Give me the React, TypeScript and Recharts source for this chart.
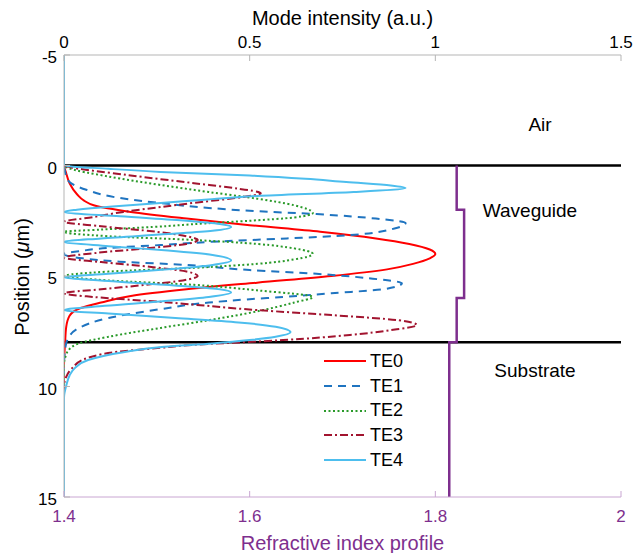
import React from "react";
import { LineChart, Line, XAxis, YAxis, ReferenceLine, Legend } from "recharts";

const FONT = "'Liberation Sans', Arial, Helvetica, sans-serif";
const PURPLE = "#7E2F8E";
const FRAME = "#b5b5b5";
const FRAME_BOTTOM = "#c9a6d2";

// [position (um), mode intensity (a.u.)]
const te0: [number, number][] = [
  [-5, 0], [0, 0], [0.3, 0.005], [0.8, 0.015], [1.3, 0.035], [1.6, 0.055], [1.8, 0.08],
  [2.1, 0.18], [2.4, 0.33], [2.7, 0.5], [3.0, 0.69], [3.3, 0.84], [3.55, 0.93], [3.8, 0.985],
  [4.0, 1.0], [4.2, 0.985], [4.45, 0.94], [4.7, 0.87], [5.0, 0.72], [5.3, 0.52], [5.6, 0.33],
  [5.9, 0.18], [6.2, 0.1], [6.45, 0.045], [6.8, 0.015], [7.3, 0.006], [8.0, 0.003], [9, 0], [15, 0],
];
const te1: [number, number][] = [
  [-5, 0], [0, 0], [0.3, 0.003], [0.66, 0.01], [1.1, 0.06], [1.47, 0.15], [1.7, 0.26],
  [1.92, 0.39], [2.05, 0.5], [2.2, 0.68], [2.4, 0.84], [2.6, 0.92], [2.85, 0.89], [3.15, 0.77],
  [3.3, 0.6], [3.46, 0.39], [3.6, 0.26], [3.73, 0.12], [3.88, 0.04], [4.0, 0],
  [4.2, 0.05], [4.35, 0.15], [4.5, 0.33], [4.73, 0.5], [4.9, 0.68], [5.1, 0.82], [5.33, 0.91],
  [5.6, 0.86], [5.78, 0.72], [5.95, 0.59], [6.05, 0.5], [6.2, 0.39], [6.5, 0.26], [6.9, 0.12],
  [7.4, 0.035], [7.8, 0.012], [8.2, 0.004], [9, 0], [15, 0],
];
const te2: [number, number][] = [
  [-5, 0], [0, 0], [0.1, 0.01], [0.5, 0.12], [0.88, 0.26], [1.2, 0.39], [1.5, 0.52],
  [1.8, 0.62], [2.15, 0.67], [2.35, 0.62], [2.5, 0.5], [2.62, 0.38], [2.78, 0.24], [2.9, 0.1],
  [3.0, 0], [3.2, 0.12], [3.37, 0.35], [3.55, 0.52], [3.75, 0.62], [4.0, 0.67], [4.25, 0.62],
  [4.45, 0.52], [4.63, 0.35], [4.8, 0.12], [5.0, 0], [5.2, 0.12], [5.4, 0.35], [5.65, 0.52],
  [5.95, 0.67], [6.2, 0.62], [6.6, 0.52], [7.0, 0.39], [7.35, 0.26], [7.75, 0.12], [8.05, 0.04],
  [8.3, 0.015], [8.6, 0.005], [9, 0], [15, 0],
];
const te3: [number, number][] = [
  [-5, 0], [0, 0], [0.05, 0.01], [0.43, 0.17], [0.8, 0.35], [1.05, 0.47], [1.25, 0.53],
  [1.43, 0.48], [1.65, 0.37], [1.88, 0.26], [2.1, 0.16], [2.33, 0.08], [2.55, 0],
  [2.75, 0.1], [3.0, 0.25], [3.2, 0.33], [3.37, 0.36], [3.55, 0.33], [3.75, 0.22], [3.95, 0.09],
  [4.17, 0], [4.37, 0.1], [4.6, 0.24], [4.8, 0.33], [5.0, 0.36], [5.2, 0.32], [5.4, 0.22],
  [5.6, 0.1], [5.78, 0], [5.95, 0.08], [6.17, 0.26], [6.54, 0.52], [6.77, 0.72], [7.0, 0.9],
  [7.22, 0.95], [7.45, 0.88], [7.67, 0.77], [7.9, 0.59], [8.0, 0.48], [8.1, 0.36], [8.25, 0.26],
  [8.4, 0.16], [8.7, 0.065], [9.2, 0.02], [9.6, 0.005], [10, 0], [15, 0],
];
const te4: [number, number][] = [
  [-5, 0], [0, 0], [0.15, 0.12], [0.29, 0.26], [0.45, 0.5], [0.6, 0.65], [0.75, 0.76],
  [0.9, 0.88], [1.02, 0.92], [1.2, 0.78], [1.38, 0.52], [1.56, 0.37], [1.7, 0.26], [1.85, 0.13],
  [2.0, 0.035], [2.1, 0], [2.3, 0.15], [2.5, 0.33], [2.65, 0.42], [2.78, 0.45], [2.95, 0.4],
  [3.1, 0.28], [3.3, 0.1], [3.45, 0], [3.65, 0.12], [3.85, 0.28], [4.05, 0.4], [4.3, 0.45],
  [4.5, 0.4], [4.7, 0.28], [4.9, 0.12], [5.05, 0], [5.25, 0.14], [5.45, 0.32], [5.6, 0.42],
  [5.75, 0.45], [5.95, 0.39], [6.15, 0.26], [6.35, 0.11], [6.55, 0], [6.7, 0.12], [6.9, 0.3],
  [7.1, 0.47], [7.3, 0.57], [7.55, 0.61], [7.75, 0.57], [7.9, 0.5], [8.05, 0.4], [8.2, 0.27],
  [8.45, 0.16], [8.8, 0.065], [9.15, 0.03], [9.5, 0.015], [9.9, 0.007], [10.5, 0], [15, 0],
];

// refractive index profile (step)
const profilePos = [0, 2, 2, 6, 6, 8, 8, 15];
const profileN = [1.823, 1.823, 1.831, 1.831, 1.823, 1.823, 1.815, 1.815];

const intensityTicks = [0, 0.5, 1, 1.5];
const indexTicks = [1.4, 1.6, 1.8, 2];
const posTicks = [-5, 0, 5, 10, 15];

const modes = [
  { name: "TE0", pts: te0, color: "#ff0000", dash: undefined },
  { name: "TE1", pts: te1, color: "#1f74c0", dash: "8 6" },
  { name: "TE2", pts: te2, color: "#2a9a2a", dash: "2 2.5" },
  { name: "TE3", pts: te3, color: "#a2142f", dash: "8 3 2 3" },
  { name: "TE4", pts: te4, color: "#4dbeee", dash: undefined },
];

const profileRows = profilePos.map((pos, i) => ({ pos, v: profileN[i] }));

const TopTick = (props: any) => {
  const { x, y, payload } = props;
  return (
    <g>
      <line x1={x} x2={x} y1={y} y2={y + 6} stroke={FRAME} />
      <text x={x} y={y - 7} textAnchor="middle" fontSize={17} fontFamily={FONT} fill="#000">
        {String(payload.value)}
      </text>
    </g>
  );
};

const BottomTick = (props: any) => {
  const { x, y, payload } = props;
  return (
    <g>
      <line x1={x} x2={x} y1={y} y2={y - 6} stroke={FRAME_BOTTOM} />
      <text x={x} y={y + 25} textAnchor="middle" fontSize={17} fontFamily={FONT} fill={PURPLE}>
        {String(payload.value)}
      </text>
    </g>
  );
};

const LeftTick = (props: any) => {
  const { x, y, payload } = props;
  return (
    <g>
      <line x1={x} x2={x + 6} y1={y} y2={y} stroke={FRAME} />
      <text x={x - 7} y={y + 8} textAnchor="end" fontSize={17} fontFamily={FONT} fill="#000">
        {String(payload.value)}
      </text>
    </g>
  );
};

const RightTick = (props: any) => {
  const { x, y } = props;
  return <line x1={x} x2={x - 6} y1={y} y2={y} stroke={FRAME} />;
};

const PosLabel = () => (
  <text
    x={22}
    y={277}
    transform="rotate(-90 22 277)"
    textAnchor="middle"
    dominantBaseline="central"
    fontSize={20}
    fontFamily={FONT}
    fill="#000"
  >
    Position (<tspan fontStyle="italic">μ</tspan>m)
  </text>
);

const renderLegend = () => (
  <div style={{ fontFamily: FONT, fontSize: 18, color: "#000" }}>
    {modes.map((m) => (
      <div key={m.name} style={{ display: "flex", alignItems: "center", height: 24.7 }}>
        <svg width={46} height={10}>
          <line x1={0} x2={42} y1={5} y2={5} stroke={m.color} strokeWidth={2} strokeDasharray={m.dash} />
        </svg>
        <span>{m.name}</span>
      </div>
    ))}
  </div>
);

const note = (text: string, x: number, y: number) => (
  <div
    style={{
      position: "absolute",
      left: x,
      top: y,
      transform: "translate(-50%, -50%)",
      fontFamily: FONT,
      fontSize: 19,
      whiteSpace: "nowrap",
      color: "#000",
    }}
  >
    {text}
  </div>
);

const App = () => {
  return (
    <div style={{ position: "absolute", left: 0, top: 0, width: 644, height: 553, background: "#fff" }}>
      <LineChart width={644} height={553} layout="vertical" margin={{ top: 0, right: 23, bottom: 0, left: 0 }}>
        <XAxis
          xAxisId="int"
          orientation="top"
          type="number"
          domain={[0, 1.5]}
          ticks={intensityTicks}
          interval={0}
          height={55}
          tickSize={0}
          tickMargin={0}
          tickLine={false}
          tick={<TopTick />}
          axisLine={{ stroke: FRAME }}
          allowDataOverflow
          label={{ value: "Mode intensity (a.u.)", position: "insideTop", offset: 11, fill: "#000", fontSize: 20, fontFamily: FONT }}
        />
        <XAxis
          xAxisId="n"
          orientation="bottom"
          type="number"
          domain={[1.4, 2]}
          ticks={indexTicks}
          interval={0}
          height={56}
          tickSize={0}
          tickMargin={0}
          tickLine={false}
          tick={<BottomTick />}
          axisLine={{ stroke: FRAME_BOTTOM }}
          allowDataOverflow
          label={{ value: "Refractive index profile", position: "insideBottom", offset: 3, fill: PURPLE, fontSize: 20, fontFamily: FONT }}
        />
        <YAxis
          type="number"
          dataKey="pos"
          domain={[-5, 15]}
          ticks={posTicks}
          interval={0}
          width={64}
          tickSize={0}
          tickMargin={0}
          tickLine={false}
          tick={<LeftTick />}
          axisLine={{ stroke: FRAME }}
          allowDataOverflow
          label={<PosLabel />}
        />
        <YAxis
          yAxisId="r"
          orientation="right"
          type="number"
          dataKey="pos"
          domain={[-5, 15]}
          ticks={posTicks}
          interval={0}
          width={0}
          tickSize={0}
          tickMargin={0}
          tickLine={false}
          tick={<RightTick />}
          axisLine={{ stroke: FRAME }}
          allowDataOverflow
        />
        <ReferenceLine y={0} xAxisId="int" stroke="#000" strokeWidth={2.5} />
        <ReferenceLine y={8} xAxisId="int" stroke="#000" strokeWidth={2.5} />
        <Line
          xAxisId="n"
          data={profileRows}
          dataKey="v"
          name="n"
          type="linear"
          stroke={PURPLE}
          strokeWidth={2.5}
          dot={false}
          legendType="none"
          isAnimationActive={false}
        />
        {modes.map((m) => (
          <Line
            key={m.name}
            xAxisId="int"
            data={m.pts.map(([pos, v]) => ({ pos, v }))}
            dataKey="v"
            name={m.name}
            type="monotone"
            stroke={m.color}
            strokeWidth={2}
            strokeDasharray={m.dash}
            dot={false}
            isAnimationActive={false}
          />
        ))}
        <Legend
          layout="vertical"
          align="center"
          verticalAlign="middle"
          content={renderLegend}
          wrapperStyle={{ left: 324, top: 349, width: 110 }}
        />
      </LineChart>
      {note("Air", 540, 125)}
      {note("Waveguide", 530, 211)}
      {note("Substrate", 535, 371)}
    </div>
  );
};

export default App;
